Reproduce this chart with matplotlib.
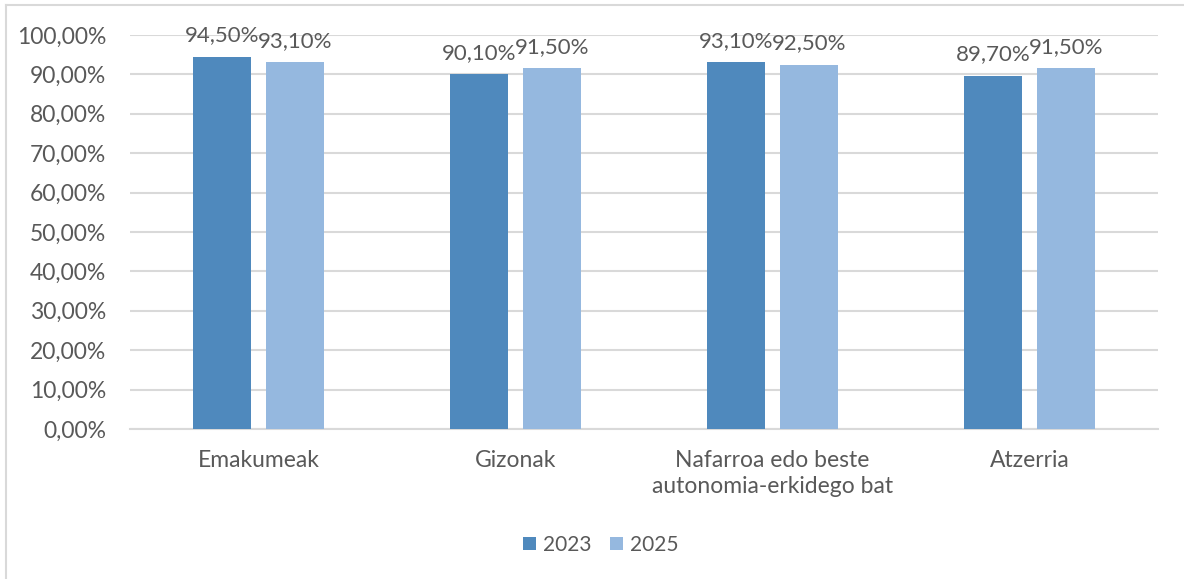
import matplotlib
matplotlib.use("Agg")
import matplotlib.pyplot as plt
from matplotlib.lines import Line2D
import numpy as np

categories = ["Emakumeak", "Gizonak", "Nafarroa edo beste\nautonomia-erkidego bat", "Atzerria"]
series_names = ["2023", "2025"]
values_2023 = [94.5, 90.1, 93.1, 89.7]
values_2025 = [93.1, 91.5, 92.5, 91.5]
y_ticks = [0, 10, 20, 30, 40, 50, 60, 70, 80, 90, 100]

c2023 = "#4F89BD"
c2025 = "#95B8DF"
txt = "#595959"
grid = "#D9D9D9"
fs = 16.5

plt.rcParams['font.family'] = ['Lato', 'DejaVu Sans']

fig = plt.figure(figsize=(11.84, 5.79), dpi=100)
ax = fig.add_axes([130/1184, 1-429/579, 1028/1184, (429-35)/579])

x = np.arange(len(categories))
w = 0.222
off = 0.142
b1 = ax.bar(x - off, values_2023, w, color=c2023, zorder=3, label=series_names[0])
b2 = ax.bar(x + off, values_2025, w, color=c2025, zorder=3, label=series_names[1])

def fmt(v):
    return f"{v:.2f}".replace(".", ",") + "%"

for bars, vals in ((b1, values_2023), (b2, values_2025)):
    for r, v in zip(bars, vals):
        ax.annotate(fmt(v), (r.get_x() + r.get_width()/2, v), xytext=(0, 8),
                    textcoords="offset points", ha="center", va="bottom",
                    fontsize=16, color=txt, zorder=4, annotation_clip=False)

ax.set_xlim(-0.5, len(categories) - 0.5)
ax.set_ylim(0, 100)
ax.set_yticks(y_ticks)
ax.set_yticklabels([f"{t:.2f}".replace(".", ",") + "%" for t in y_ticks])
ax.set_xticks(x)
ax.set_xticklabels(categories, linespacing=1.3)
ax.tick_params(axis="both", length=0, labelsize=fs, labelcolor=txt)
ax.tick_params(axis="y", pad=17)
ax.tick_params(axis="x", pad=15)
ax.grid(axis="y", color=grid, linewidth=1.5, zorder=0)
for s in ["top", "right", "left"]:
    ax.spines[s].set_visible(False)
ax.spines["bottom"].set_color(grid)
ax.spines["bottom"].set_linewidth(1.5)

fig.legend(handles=[b1, b2], labels=series_names, loc="center",
           bbox_to_anchor=(601/1184, 1-545/579), ncol=2, frameon=False,
           handlelength=0.62, handleheight=0.62, handletextpad=0.34,
           columnspacing=0.87, fontsize=15, labelcolor=txt)

# chart frame (cropped)
fig.add_artist(Line2D([6/1184, 1], [1-5/579, 1-5/579], transform=fig.transFigure, color=grid, linewidth=1.5))
fig.add_artist(Line2D([6/1184, 6/1184], [0, 1-5/579], transform=fig.transFigure, color=grid, linewidth=1.5))

fig.savefig("out.png", dpi=100, facecolor="white")
